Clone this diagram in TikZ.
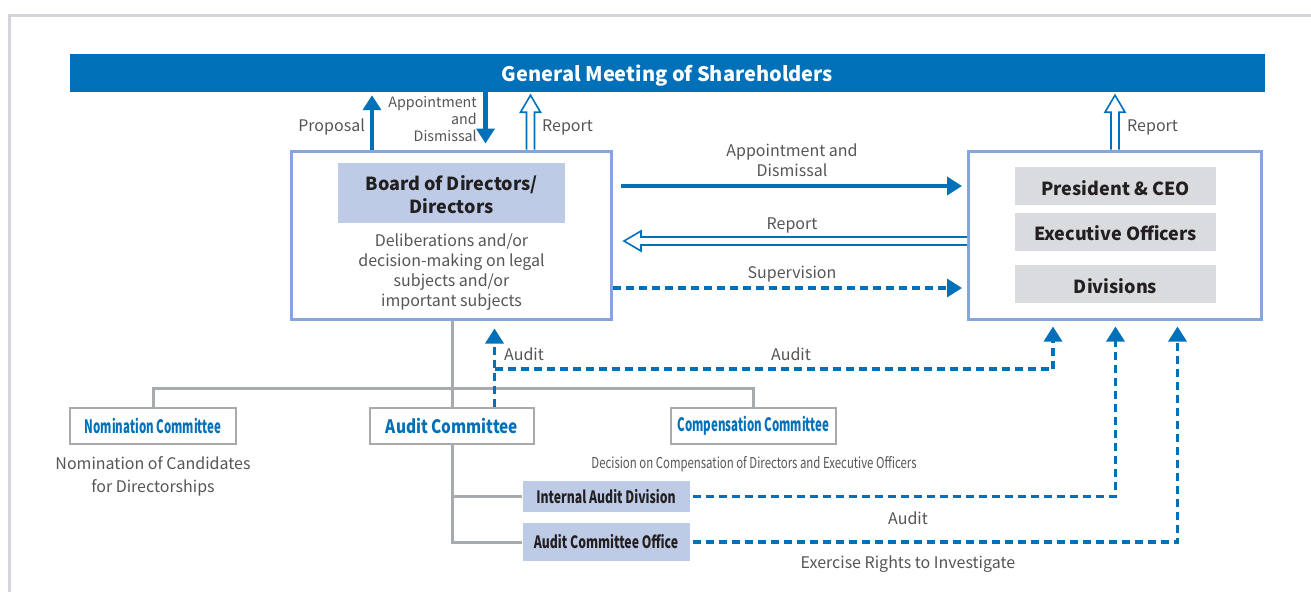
\documentclass[tikz,border=0pt]{standalone}
\usepackage{fontspec}
\setmainfont{Noto Sans CJK JP}
\newfontfamily\condfont[FakeStretch=0.62]{Noto Sans CJK JP}
\newfontfamily\subfont[FakeStretch=0.72]{Noto Sans CJK JP}
\newfontfamily\audfont[FakeStretch=0.83]{Noto Sans CJK JP}
\newfontfamily\descfont[FakeStretch=0.76]{Noto Sans CJK JP}
\usetikzlibrary{arrows.meta,calc}
\definecolor{cblue}{HTML}{0070B9}
\definecolor{lblue}{HTML}{86A6DB}
\definecolor{tfill}{HTML}{BDCBE7}
\definecolor{gfill}{HTML}{D9DBDE}
\definecolor{gline}{HTML}{A8ABAE}
\definecolor{frame}{HTML}{D3D5D8}
\definecolor{txt}{HTML}{555555}
\definecolor{dark}{HTML}{231F20}
\tikzset{
  lbl/.style={inner sep=0pt, text=txt, font=\fontsize{16}{20}\selectfont, align=center},
  bluebox/.style={draw=lblue, line width=3pt, fill=white},
  titlebox/.style={fill=tfill, text=dark, font=\fontsize{18}{23}\selectfont\bfseries, align=center, inner sep=0pt},
  graybox/.style={fill=gfill, text=dark, font=\fontsize{18}{22}\selectfont\bfseries, inner sep=0pt, minimum width=201pt},
  combox/.style={draw=gline, line width=1.6pt, fill=white, text=cblue, inner sep=0pt, minimum height=36pt},
  subbox/.style={fill=tfill, text=dark, font=\subfont\fontsize{17}{20}\selectfont\bfseries, inner sep=0pt, minimum width=167pt},
  solidarrow/.style={draw=cblue, line width=4.5pt, -{Triangle[width=18pt,length=15pt]}},
  dasharrow/.style={draw=cblue, line width=3.2pt, dash pattern=on 8pt off 5pt, -{Triangle[width=18pt,length=15pt]}},
  hollow/.style={draw=cblue, line width=1.6pt, fill=white, line join=miter},
  grayline/.style={draw=gline, line width=3pt},
}
\newcommand\hollowup[2]{\draw[hollow] let \p1=#1, \p2=#2 in
  (\x1-4pt,\y1) -- (\x1-4pt,\y2-17pt) -- (\x1-10pt,\y2-17pt) -- (\x1,\y2) -- (\x1+10pt,\y2-17pt) -- (\x1+4pt,\y2-17pt) -- (\x1+4pt,\y1);}
\newcommand\hollowleft[2]{\draw[hollow] let \p1=#1, \p2=#2 in
  (\x1,\y1+4pt) -- (\x2+17pt,\y1+4pt) -- (\x2+17pt,\y1+10pt) -- (\x2,\y1) -- (\x2+17pt,\y1-10pt) -- (\x2+17pt,\y1-4pt) -- (\x1,\y1-4pt);}
\begin{document}
\begin{tikzpicture}[x=1pt,y=-1pt]
\useasboundingbox (0,0) rectangle (1311,592);
% outer frame
\draw[frame, line width=3pt] (9,592) -- (9,15) -- (1311,15);

% main nodes
\node[fill=cblue, minimum width=1195pt, minimum height=38pt, inner sep=0pt] (gms) at (667.5,73) {};
\node[text=white, inner sep=0pt, font=\fontsize{20}{24}\selectfont\bfseries] (gmst) at (667.5,75.5) {General Meeting of Shareholders};
\node[bluebox, minimum width=320pt, minimum height=168pt] (board) at (451.5,235) {};
\node[titlebox, minimum width=227pt, minimum height=60pt] (btitle) at (451.5,193) {};
\node[text=dark, inner sep=0pt, font=\fontsize{18}{23}\selectfont\bfseries, align=center] (btitlet) at (451.5,195) {Board of Directors/\\Directors};
\node[lbl] (bdesc) at (451.5,272.5) {Deliberations and/or\\decision-making on legal\\subjects and/or\\important subjects};

\node[bluebox, minimum width=293pt, minimum height=168pt] (exec) at (1115,235) {};
\node[graybox, minimum height=38pt] (ceo) at (1115.5,186) {};
\node[graybox, minimum height=38pt] (eo) at (1115.5,232) {};
\node[graybox, minimum height=38pt] (div) at (1115.5,284) {};
\node[text=dark, inner sep=0pt, font=\fontsize{18}{22}\selectfont\bfseries] (ceot) at (1115.5,188) {President \& CEO};
\node[text=dark, inner sep=0pt, font=\fontsize{18}{22}\selectfont\bfseries] (eot) at (1115.5,233) {Executive Officers};
\node[text=dark, inner sep=0pt, font=\fontsize{18}{22}\selectfont\bfseries] (divt) at (1115.5,286) {Divisions};

% committees
\node[combox, minimum width=166pt, font=\condfont\fontsize{18.5}{20}\selectfont\bfseries] (nom) at (153,426) {Nomination Committee};
\node[combox, minimum width=164pt, font=\audfont\fontsize{18.5}{20}\selectfont\bfseries] (audc) at (452,426) {Audit Committee};
\node[combox, minimum width=165pt, font=\condfont\fontsize{18.5}{20}\selectfont\bfseries] (comp) at (753.5,426) {Compensation Committee};
\node[subbox, minimum height=31pt] (iad) at (606,496.5) {Internal Audit Division};
\node[subbox, minimum height=38pt] (aco) at (606,542) {Audit Committee Office};

\node[lbl, font=\fontsize{16}{23}\selectfont] (nomdesc) at (153,476.5) {Nomination of Candidates\\for Directorships};
\node[lbl, font=\descfont\fontsize{15}{18}\selectfont] (compdesc) at (754,464.5) {Decision on Compensation of Directors and Executive Officers};

% reference coordinates
\coordinate (px) at (372,0);
\coordinate (dx) at (485.5,0);
\coordinate (rx) at (530.5,0);
\coordinate (erx) at (1115,0);
\coordinate (ya) at (0,186);
\coordinate (yr) at (0,241);
\coordinate (ys) at (0,288);
\coordinate (yh) at (0,388);
\coordinate (yaud) at (0,369);
\coordinate (ax) at (494.5,0);
\coordinate (ex1) at (1053,0);
\coordinate (ex2) at (1115.5,0);
\coordinate (ex3) at (1177.5,0);

% gray organisation lines
\draw[grayline] (board.south -| audc.north) -- (audc.north);
\draw[grayline] (nom.north) |- (yh -| audc.north) -| (comp.north);
\draw[grayline] (audc.south) |- (aco.west);
\draw[grayline] (audc.south |- iad.west) -- (iad.west);

% arrows between board and shareholders
\draw[solidarrow] (board.north -| px) -- ($(gms.south -| px)+(0,3)$);
\draw[solidarrow] (gms.south -| dx) -- ($(board.north -| dx)+(0,-6)$);
\hollowup{(board.north -| rx)}{($(gms.south -| rx)+(0,3)$)}
\hollowup{(exec.north -| erx)}{($(gms.south -| erx)+(0,3)$)}

\node[lbl, anchor=east] (lprop) at (365,127) {Proposal};
\node[lbl, anchor=east, align=right, font=\fontsize{14.3}{17}\selectfont] (lapp) at (477,119.5) {Appointment\\and\\Dismissal};
\node[lbl, anchor=west] (lrep) at (542,127) {Report};
\node[lbl, anchor=west] (lrep2) at (1127,127) {Report};

% arrows between board and executives
\draw[solidarrow] ($(board.east |- ya)+(8,0)$) -- ($(exec.west |- ya)+(-5,0)$);
\hollowleft{(exec.west |- yr)}{($(board.east |- yr)+(11,0)$)}
\draw[dasharrow] (board.east |- ys) -- ($(exec.west |- ys)+(-5,0)$);
\node[lbl] (lapp2) at (792,160.5) {Appointment and\\Dismissal};
\node[lbl] (lrep3) at (792,225) {Report};
\node[lbl] (lsup) at (792,274) {Supervision};

% audit arrows
\draw[dasharrow] (audc.north -| ax) -- ($(board.south -| ax)+(0,8)$);
\draw[dasharrow] (yaud -| ax) -- (yaud -| ex1) -- ($(exec.south -| ex1)+(0,6)$);
\draw[dasharrow] ($(iad.east)+(3,0)$) -- (iad.east -| ex2) -- ($(exec.south -| ex2)+(0,6)$);
\draw[dasharrow] ($(aco.east)+(3,0)$) -- (aco.east -| ex3) -- ($(exec.south -| ex3)+(0,6)$);
\node[lbl, anchor=west] (laud1) at (504,354) {Audit};
\node[lbl] (laud2) at (791,354) {Audit};
\node[lbl] (laud3) at (908,518) {Audit};
\node[lbl] (lexe) at (908,564) {Exercise Rights to Investigate};
\end{tikzpicture}
\end{document}
